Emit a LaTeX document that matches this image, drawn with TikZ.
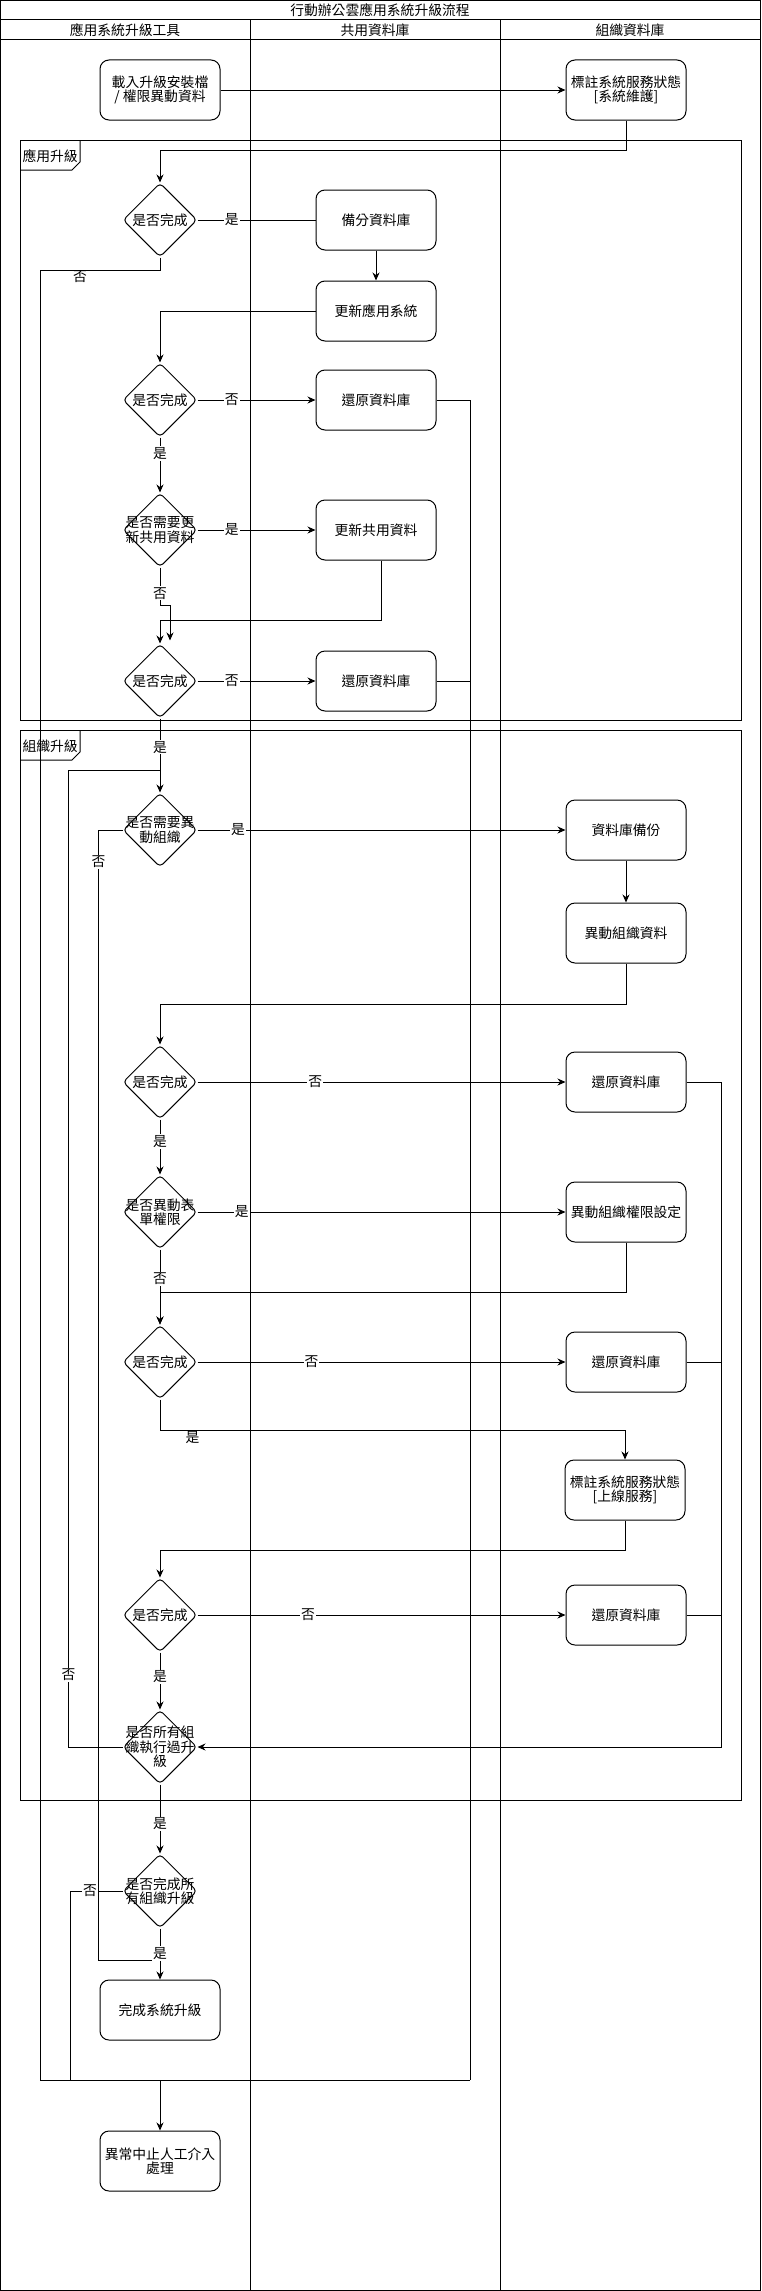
\documentclass[tikz,border=0pt]{standalone}
\usepackage{fontspec}
\setmainfont{Noto Sans CJK TC}
\usetikzlibrary{arrows.meta,positioning,shapes.geometric}

\tikzset{
  box/.style={draw, fill=white, rounded corners=9pt, minimum width=120pt, minimum height=60pt, align=center, inner sep=2pt},
  dec/.style={draw, fill=white, diamond, rounded corners=4pt, minimum width=74pt, minimum height=74pt, inner sep=0pt},
  lbl/.style={fill=white, inner sep=1pt},
  tab/.style={anchor=west, inner sep=1pt},
}

\begin{document}
\begin{tikzpicture}[x=1pt, y=-1pt, line width=1pt, >={Stealth[length=8pt,width=7pt]},
  font=\fontsize{13.8}{14.5}\selectfont]
\useasboundingbox (0,0) rectangle (761,2291);
% pool and lanes
\draw (0.5,0.5) rectangle (760.5,2290.5);
\draw (0.5,20) -- (760.5,20);
\draw (0.5,40) -- (760.5,40);
\draw (250,20) -- (250,2290.5);
\draw (500,20) -- (500,2290.5);
\node (title) at (380,10) {行動辦公雲應用系統升級流程};
\node (lane1) at (125,30) {應用系統升級工具};
\node (lane2) at (375,30) {共用資料庫};
\node (lane3) at (630,30) {組織資料庫};

% frames
\draw (20,140) rectangle (741,720);
\draw (20,170) -- (72,170) -- (80,162) -- (80,140);
\node[tab] (app) at (21,156) {應用升級};
\draw (20,730) rectangle (741,1800);
\draw (20,760) -- (72,760) -- (80,752) -- (80,730);
\node[tab] (org_up) at (21,746) {組織升級};

% nodes
\node[box] (load) at (160,90) {載入升級安裝檔\\/ 權限異動資料};
\node[box, right=345pt of load] (mark1) {標註系統服務狀態\\{}[系統維護]};

\node[dec, label={[align=center]center:是否完成}] (q1) at (160,220) {};
\node[box, right=118pt of q1] (bak1) {備分資料庫};
\node[box, below=30pt of bak1] (upd) {更新應用系統};
\node[dec, label={[align=center]center:是否完成}] (q2) at (160,400) {};
\node[box, right=118pt of q2] (rest1) {還原資料庫};
\node[dec, label={[align=center]center:是否需要更\\新共用資料}] (q3) at (160,530) {};
\node[box, right=118pt of q3] (shr) {更新共用資料};
\node[dec, label={[align=center]center:是否完成}] (q4) at (160,681) {};
\node[box, right=118pt of q4] (rest2) {還原資料庫};

\node[dec, label={[align=center]center:是否需要異\\動組織}] (q5) at (160,830) {};
\node[box, right=368pt of q5] (bak2) {資料庫備份};
\node[box, below=42pt of bak2] (org) {異動組織資料};
\node[dec, label={[align=center]center:是否完成}] (q6) at (160,1082) {};
\node[box, right=368pt of q6] (rest3) {還原資料庫};
\node[dec, label={[align=center]center:是否異動表\\單權限}] (q7) at (160,1212) {};
\node[box, right=368pt of q7] (perm) {異動組織權限設定};
\node[dec, label={[align=center]center:是否完成}] (q8) at (160,1362) {};
\node[box, right=368pt of q8] (rest4) {還原資料庫};
\node[box] (mark2) at (625,1490) {標註系統服務狀態\\{}[上線服務]};
\node[dec, label={[align=center]center:是否完成}] (q9) at (160,1615) {};
\node[box, right=368pt of q9] (rest5) {還原資料庫};
\node[dec, label={[align=center]center:是否所有組\\織執行過升\\級}] (q10) at (160,1747) {};

\node[dec, label={[align=center]center:是否完成所\\有組織升級}] (q11) at (160,1891) {};
\node[box] (done) at (160,2010) {完成系統升級};
\node[box, below=90pt of done] (abort) {異常中止人工介入\\處理};

\coordinate (fl) at (40,2080);
\coordinate (fm) at (70,2080);
\coordinate (fj) at (160,2080);
\coordinate (fr) at (470,2080);
\coordinate (dj) at (160,1960);
\coordinate (lp) at (160,770);
\coordinate (rr) at (721,1747);

% edges
\draw[->] (load) -- (mark1);
\draw[->] (mark1.south) -- ++(0,30) -| (q1.north);
\draw (q1.east) -- node[lbl, pos=0.29]{是} (bak1.west);
\draw[->] (bak1) -- (upd);
\draw[->] (upd.west) -| (q2.north);
\draw (q1.south) -- ++(0,13) -| node[below, inner sep=0pt, pos=0.333]{否} (fl) -- (fr);
\draw[->] (q2.east) -- node[lbl, pos=0.29]{否} (rest1.west);
\draw (rest1.east) -| (fr);
\draw[->] (q2.south) -- node[lbl, pos=0.29]{是} (q3.north);
\draw[->] (q3.east) -- node[lbl, pos=0.29]{是} (shr.west);
\draw[->] (q3.south) -- node[lbl, pos=0.68]{否} ++(0,38) -- ++(10,0) -- ++(0,35);
\draw[->] ([xshift=5pt]shr.south) -- ++(0,60) -| (q4.north);
\draw[->] (q4.east) -- node[lbl, pos=0.29]{否} (rest2.west);
\draw (rest2.east) -- (rest2.east -| fr);
\draw[->] (q4.south) -- node[lbl, pos=0.39]{是} (q5.north);

\draw[->] (q5.east) -- node[lbl, pos=0.11]{是} (bak2.west);
\draw (q5.west) -- ++(-24,0) coordinate (c1) -- node[lbl, pos=0.028]{否} (c1 |- dj) -- (dj);
\draw[->] (bak2) -- (org);
\draw[->] (org.south) -- ++(0,41) -| (q6.north);
\draw[->] (q6.east) -- node[lbl, pos=0.32]{否} (rest3.west);
\draw[->] (rest3.east) -| (rr) -- (q10.east);
\draw[->] (q6.south) -- node[lbl, pos=0.4]{是} (q7.north);
\draw[->] (q7.east) -- node[lbl, pos=0.12]{是} (perm.west);
\draw[->] (q7.south) -- node[lbl, pos=0.39]{否} (q8.north);
\draw[->] (perm.south) -- ++(0,50) -| (q8.north);
\draw[->] (q8.east) -- node[lbl, pos=0.31]{否} (rest4.west);
\draw (rest4.east) -- (rest4.east -| rr);
\draw[->] (q8.south) -- ++(0,31) -| node[below, inner sep=0pt, pos=0.035]{是} (mark2.north);
\draw[->] (mark2.south) -- ++(0,30) -| (q9.north);
\draw[->] (q9.east) -- node[lbl, pos=0.3]{否} (rest5.west);
\draw (rest5.east) -- (rest5.east -| rr);
\draw[->] (q9.south) -- node[lbl, pos=0.43]{是} (q10.north);
\draw (q10.west) -- ++(-54,0) coordinate (c2) -- node[lbl, pos=0.074]{否} (c2 |- lp) -- (lp);
\draw[->] (q10.south) -- node[lbl, pos=0.57]{是} (q11.north);

\draw (q11.west) -| node[lbl, pos=0.31]{否} (fm);
\draw[->] (q11.south) -- node[lbl, pos=0.49]{是} (done.north);
\draw[->] (fj) -- (abort.north);
\end{tikzpicture}
\end{document}
